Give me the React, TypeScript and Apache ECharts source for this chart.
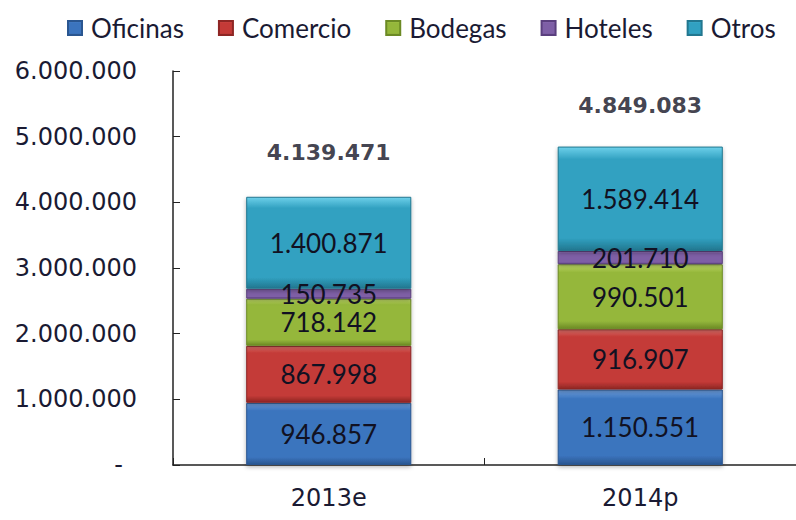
import React, { useEffect, useRef } from "react";
import * as echarts from "echarts";

const categories = ["2013e", "2014p"];
const oficinas = [946857, 1150551];
const comercio = [867998, 916907];
const bodegas = [718142, 990501];
const hoteles = [150735, 201710];
const otros = [1400871, 1589414];
const totals = [4139471, 4849083];

const seriesDefs = [
  { name: "Oficinas", data: oficinas, color: "#3B74BE", dark: "#2A5690", light: "#6E9FDD" },
  { name: "Comercio", data: comercio, color: "#C43A37", dark: "#8E2624", light: "#E0706B" },
  { name: "Bodegas", data: bodegas, color: "#95B73B", dark: "#6C8A25", light: "#C3DE6A" },
  { name: "Hoteles", data: hoteles, color: "#7E5FA6", dark: "#5A3F7E", light: "#A88BCD" },
  { name: "Otros", data: otros, color: "#31A1C1", dark: "#22778F", light: "#6DD0EA" },
];

const fmt = (v: number) =>
  Math.round(v)
    .toString()
    .replace(/\B(?=(\d{3})+(?!\d))/g, ".");

export default function App() {
  const ref = useRef<HTMLDivElement>(null);
  useEffect(() => {
    if (!ref.current) return;
    const chart = echarts.init(ref.current, null, { renderer: "svg" });
    const bars = seriesDefs.map((s) => ({
      name: s.name,
      type: "bar",
      stack: "total",
      barWidth: "53%",
      data: s.data,
      itemStyle: {
        color: new echarts.graphic.LinearGradient(0, 0, 0, 1, [
          { offset: 0, color: s.light },
          { offset: 0.12, color: s.color },
          { offset: 0.88, color: s.color },
          { offset: 1, color: s.dark },
        ]),
        borderColor: s.dark,
        borderWidth: 1,
        shadowColor: "rgba(0,0,0,0.3)",
        shadowBlur: 4,
        shadowOffsetY: 2,
      },
      label: {
        show: true,
        position: "inside",
        formatter: (p: any) => fmt(p.value),
        fontFamily: "Lato",
        fontSize: 26,
        color: "#111122",
      },
      emphasis: { disabled: true },
    }));
    chart.setOption({
      animation: false,
      legend: {
        data: seriesDefs.map((s) => s.name),
        top: 10,
        left: 62,
        icon: "rect",
        itemWidth: 14,
        itemHeight: 14,
        itemGap: 34,
        textStyle: { fontFamily: "Lato", fontSize: 26, color: "#1a1a33", padding: [0, 0, 0, 4] },
      },
      grid: { left: 173, right: -11, top: 71, bottom: 55, containLabel: false },
      xAxis: {
        type: "category",
        data: categories,
        axisLine: { lineStyle: { color: "#222", width: 1.5 } },
        axisTick: { show: true, inside: true, length: 7, lineStyle: { color: "#222" } },
        axisLabel: { fontFamily: "DejaVu Sans", fontSize: 24, color: "#1a1a33", margin: 21 },
      },
      yAxis: {
        type: "value",
        min: 0,
        max: 6000000,
        interval: 1000000,
        splitLine: { show: false },
        axisLine: { show: true, lineStyle: { color: "#222", width: 1.5 } },
        axisTick: { show: true, inside: true, length: 7, lineStyle: { color: "#222" } },
        axisLabel: {
          fontFamily: "DejaVu Sans",
          fontSize: 24,
          color: "#1a1a33",
          margin: 36,
          formatter: (v: number) => (v === 0 ? "{z|-}" : fmt(v)),
          rich: { z: { fontFamily: "DejaVu Sans", fontSize: 24, color: "#1a1a33", padding: [0, 14, 0, 0] } },
        },
      },
      series: [
        ...bars,
        {
          name: "Total",
          type: "scatter",
          data: totals,
          symbolSize: 0,
          silent: true,
          label: {
            show: true,
            position: "top",
            distance: 30,
            formatter: (p: any) => fmt(p.value),
            fontFamily: "DejaVu Sans",
            fontWeight: "bold",
            fontSize: 22,
            color: "#111122",
          },
        },
      ],
    });
    return () => chart.dispose();
  }, []);
  return <div ref={ref} style={{ width: 796, height: 520, position: "absolute", left: 0, top: 0 }} />;
}
